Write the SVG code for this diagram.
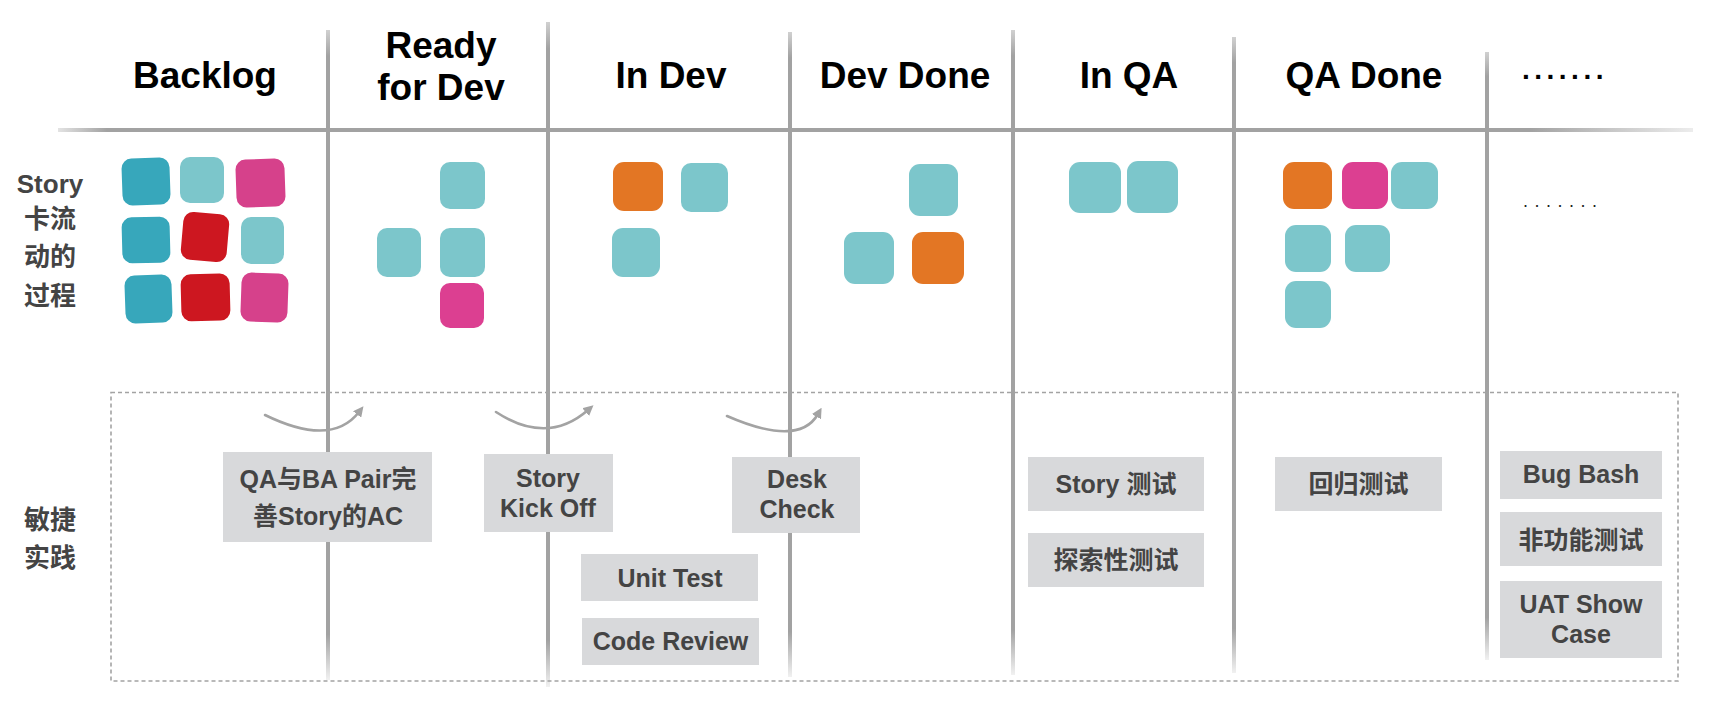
<svg xmlns="http://www.w3.org/2000/svg" width="1714" height="708" viewBox="0 0 1714 708">
<defs>
<style>
.hd{font-family:"Liberation Sans",Arial,"Noto Sans CJK SC",sans-serif;font-weight:bold;font-size:37px;fill:#000;text-anchor:middle}
.rl{font-family:"Liberation Sans",Arial,"Noto Sans CJK SC",sans-serif;font-weight:bold;font-size:26px;fill:#444;text-anchor:middle}
.pt{font-family:"Liberation Sans",Arial,"Noto Sans CJK SC",sans-serif;font-weight:bold;font-size:25px;fill:#444;text-anchor:middle}
.box{fill:#d8d9db}
.dk{fill:#37a7bb}.lt{fill:#7cc6cb}.pk{fill:#d6418b}.rd{fill:#cd1720}.or{fill:#e37624}.pk2{fill:#dc3f91}
.arrow{fill:none;stroke:#a3a3a3;stroke-width:2.6;stroke-linecap:round}
</style>
<linearGradient id="vg" x1="0" y1="0" x2="0" y2="1">
<stop offset="0" stop-color="#a2a2a2" stop-opacity="0.5"/>
<stop offset="0.04" stop-color="#a2a2a2"/>
<stop offset="0.93" stop-color="#a2a2a2"/>
<stop offset="1" stop-color="#a2a2a2" stop-opacity="0.15"/>
</linearGradient>
<linearGradient id="hg" x1="0" y1="0" x2="1" y2="0">
<stop offset="0" stop-color="#a2a2a2" stop-opacity="0.3"/>
<stop offset="0.03" stop-color="#a2a2a2"/>
<stop offset="0.9" stop-color="#a2a2a2"/>
<stop offset="1" stop-color="#a2a2a2" stop-opacity="0.2"/>
</linearGradient>
<marker id="ah" viewBox="0 0 10 10" refX="3" refY="5" markerWidth="4" markerHeight="4" orient="auto" markerUnits="strokeWidth">
<path d="M0,0 L10,5 L0,10 Z" fill="#a3a3a3"/>
</marker>
</defs>
<rect width="1714" height="708" fill="#fff"/>

<g id="grid">
<rect x="58" y="128" width="1635" height="4" fill="url(#hg)"/>
<rect x="326" y="30" width="4" height="650" fill="url(#vg)"/>
<rect x="546" y="22" width="4" height="665" fill="url(#vg)"/>
<rect x="788" y="32" width="4" height="645" fill="url(#vg)"/>
<rect x="1011" y="30" width="4" height="645" fill="url(#vg)"/>
<rect x="1232" y="37" width="4" height="636" fill="url(#vg)"/>
<rect x="1485" y="52" width="4" height="608" fill="url(#vg)"/>
<rect x="111" y="392.5" width="1567" height="288.5" fill="none" stroke="#a3a3a3" stroke-width="1.6" stroke-dasharray="4 3"/>
</g>

<g id="headers">
<text class="hd" x="205" y="88">Backlog</text>
<text class="hd" x="441" y="58">Ready</text>
<text class="hd" x="441" y="99.5">for Dev</text>
<text class="hd" x="671" y="88">In Dev</text>
<text class="hd" x="905" y="88">Dev Done</text>
<text class="hd" x="1129" y="88">In QA</text>
<text class="hd" x="1364" y="88">QA Done</text>
<text x="1522" y="79" font-family="Liberation Sans,Arial,sans-serif" font-weight="bold" font-size="28" letter-spacing="4.5" fill="#000">.......</text>
<text x="1523" y="207" font-family="Liberation Sans,Arial,sans-serif" font-size="18" letter-spacing="6.5" fill="#222">.......</text>
</g>

<g id="row-labels">
<text class="rl" x="50" y="193">Story</text>
<text class="rl" x="50" y="228">卡流</text>
<text class="rl" x="50" y="266">动的</text>
<text class="rl" x="50" y="305">过程</text>
<text class="rl" x="50" y="529">敏捷</text>
<text class="rl" x="50" y="567">实践</text>
</g>

<g id="cards-backlog">
<rect class="dk" x="122" y="158" width="48" height="47" rx="10" transform="rotate(-2 146 181)"/>
<rect class="lt" x="180" y="157" width="44" height="46" rx="10"/>
<rect class="pk" x="236" y="159" width="49" height="48" rx="10" transform="rotate(-2 260 183)"/>
<rect class="dk" x="122" y="217" width="48" height="46" rx="10" transform="rotate(-1.5 146 240)"/>
<rect class="rd" x="182" y="213" width="46" height="48" rx="10" transform="rotate(5 205 237)"/>
<rect class="lt" x="241" y="217" width="43" height="47" rx="10"/>
<rect class="dk" x="125" y="275" width="47" height="48" rx="10" transform="rotate(-2 148 299)"/>
<rect class="rd" x="181" y="274" width="49" height="47" rx="10" transform="rotate(-1.5 205 297)"/>
<rect class="pk" x="241" y="273" width="47" height="49" rx="10" transform="rotate(2 264 297)"/>
</g>

<g id="cards-ready">
<rect class="lt" x="440" y="162" width="45" height="47" rx="10"/>
<rect class="lt" x="377" y="228" width="44" height="49" rx="10"/>
<rect class="lt" x="440" y="228" width="45" height="49" rx="10"/>
<rect class="pk2" x="440" y="283" width="44" height="45" rx="10"/>
</g>

<g id="cards-indev">
<rect class="or" x="613" y="162" width="50" height="49" rx="11"/>
<rect class="lt" x="681" y="163" width="47" height="49" rx="10"/>
<rect class="lt" x="612" y="228" width="48" height="49" rx="11"/>
</g>

<g id="cards-devdone">
<rect class="lt" x="909" y="164" width="49" height="52" rx="11"/>
<rect class="lt" x="844" y="232" width="50" height="52" rx="11"/>
<rect class="or" x="912" y="232" width="52" height="52" rx="11"/>
</g>

<g id="cards-inqa">
<rect class="lt" x="1069" y="162" width="52" height="51" rx="11"/>
<rect class="lt" x="1127" y="161" width="51" height="52" rx="11"/>
</g>

<g id="cards-qadone">
<rect class="or" x="1283" y="162" width="49" height="47" rx="11"/>
<rect class="pk2" x="1342" y="162" width="46" height="47" rx="11"/>
<rect class="lt" x="1391" y="162" width="47" height="47" rx="11"/>
<rect class="lt" x="1285" y="225" width="46" height="47" rx="11"/>
<rect class="lt" x="1345" y="225" width="45" height="47" rx="11"/>
<rect class="lt" x="1285" y="281" width="46" height="47" rx="11"/>
</g>

<g id="connectors">
<path class="arrow" d="M265,415 Q331.5,447.5 359,412" marker-end="url(#ah)"/>
<path class="arrow" d="M496,412 Q547.5,445.5 588,410" marker-end="url(#ah)"/>
<path class="arrow" d="M727,416 Q799,447.5 818,414" marker-end="url(#ah)"/>
</g>

<g id="p-qaba">
<rect class="box" x="223" y="452" width="209" height="90"/>
<text class="pt" x="328" y="488">QA与BA Pair完</text>
<text class="pt" x="328" y="525">善Story的AC</text>
</g>
<g id="p-kickoff">
<rect class="box" x="484" y="454" width="129" height="78"/>
<text class="pt" x="548" y="487">Story</text>
<text class="pt" x="548" y="517">Kick Off</text>
</g>
<g id="p-desk">
<rect class="box" x="732" y="457" width="128" height="76"/>
<text class="pt" x="797" y="488">Desk</text>
<text class="pt" x="797" y="518">Check</text>
</g>
<g id="p-unit">
<rect class="box" x="581" y="554" width="177" height="47"/>
<text class="pt" x="670" y="587">Unit Test</text>
</g>
<g id="p-review">
<rect class="box" x="582" y="618" width="177" height="47"/>
<text class="pt" x="670.5" y="650">Code Review</text>
</g>
<g id="p-storytest">
<rect class="box" x="1028" y="457" width="176" height="54"/>
<text class="pt" x="1116" y="493">Story 测试</text>
</g>
<g id="p-explore">
<rect class="box" x="1028" y="533" width="176" height="54"/>
<text class="pt" x="1116" y="569">探索性测试</text>
</g>
<g id="p-regress">
<rect class="box" x="1275" y="457" width="167" height="54"/>
<text class="pt" x="1358.5" y="493">回归测试</text>
</g>
<g id="p-bugbash">
<rect class="box" x="1500" y="451" width="162" height="48"/>
<text class="pt" x="1581" y="483">Bug Bash</text>
</g>
<g id="p-nonfunc">
<rect class="box" x="1500" y="512" width="162" height="54"/>
<text class="pt" x="1581" y="549">非功能测试</text>
</g>
<g id="p-uat">
<rect class="box" x="1500" y="581" width="162" height="77"/>
<text class="pt" x="1581" y="613">UAT Show</text>
<text class="pt" x="1581" y="643">Case</text>
</g>
</svg>
